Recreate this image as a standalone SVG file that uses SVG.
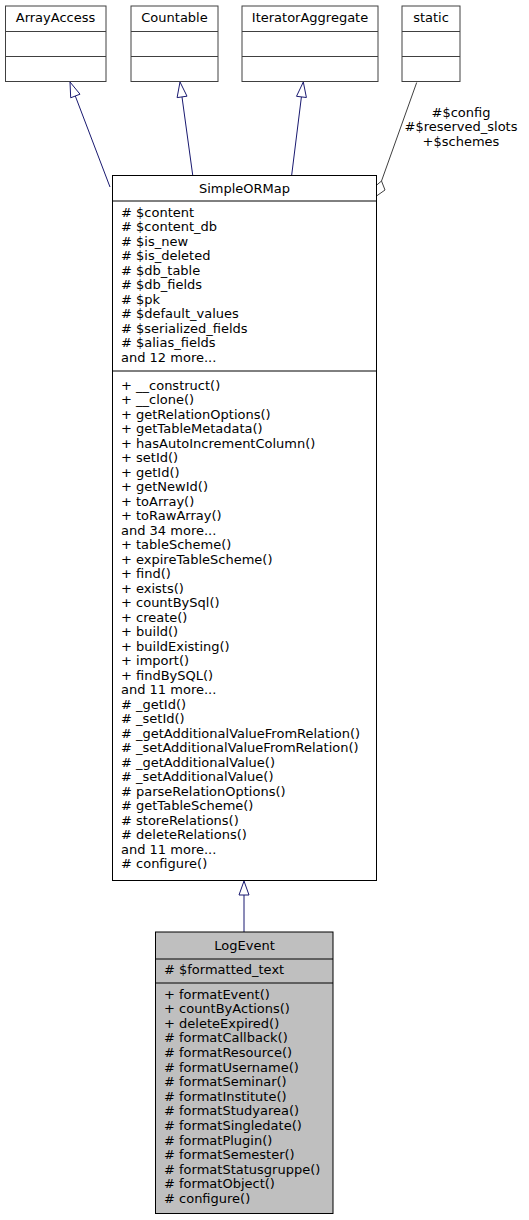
<svg xmlns="http://www.w3.org/2000/svg" width="529" height="1220" viewBox="0 0 529 1220">
<style>
text{font-family:"DejaVu Sans",sans-serif;font-size:13px;fill:#000}
.c{text-anchor:middle}
.box{fill:#fff;stroke:#404040;stroke-width:1}
.main{fill:#fff;stroke:#000;stroke-width:1}
.cur{fill:#bfbfbf;stroke:#000;stroke-width:1}
.div{stroke:#000;stroke-width:1}
.gdiv{stroke:#404040;stroke-width:1}
.inh{fill:none;stroke:#191970;stroke-width:1}
.head{fill:#fff;stroke:#191970;stroke-width:1}
.use{fill:none;stroke:#404040;stroke-width:1}
</style>
<rect width="529" height="1220" fill="#fff"/>
<g id="edges">
<path class="inh" d="M110,187 L75.3,96"/>
<polygon class="head" points="70,82 80,94.2 70.7,97.8"/>
<path class="inh" d="M192.7,175 L182,97"/>
<polygon class="head" points="180,82 187,96.2 177.1,97.6"/>
<path class="inh" d="M291.7,175 L301.4,97"/>
<polygon class="head" points="303.3,82 306.4,97.5 296.5,96.3"/>
<path class="inh" d="M244,932 L244,895"/>
<polygon class="head" points="244,881 249,895 239,895"/>
<path class="use" d="M416.7,82.5 L381.5,181"/>
<polygon class="use" fill="#fff" points="376.5,196 375,186.5 381.5,181 385,190"/>
<text class="c" x="461" y="116.5">#$config</text>
<text class="c" x="461" y="131">#$reserved_slots</text>
<text class="c" x="461" y="145.5">+$schemes</text>
</g>
<g id="ArrayAccess">
<rect class="box" x="5.5" y="6" width="100.5" height="75.5"/>
<line class="gdiv" x1="5.5" y1="31.5" x2="106" y2="31.5"/>
<line class="gdiv" x1="5.5" y1="56.5" x2="106" y2="56.5"/>
<text class="c" x="55.5" y="22">ArrayAccess</text>
</g>
<g id="Countable">
<rect class="box" x="131" y="6" width="87" height="75.5"/>
<line class="gdiv" x1="131" y1="31.5" x2="218" y2="31.5"/>
<line class="gdiv" x1="131" y1="56.5" x2="218" y2="56.5"/>
<text class="c" x="174.5" y="22">Countable</text>
</g>
<g id="IteratorAggregate">
<rect class="box" x="242" y="6" width="136" height="75.5"/>
<line class="gdiv" x1="242" y1="31.5" x2="378" y2="31.5"/>
<line class="gdiv" x1="242" y1="56.5" x2="378" y2="56.5"/>
<text class="c" x="310" y="22">IteratorAggregate</text>
</g>
<g id="static">
<rect class="box" x="402" y="6" width="58" height="75.5"/>
<line class="gdiv" x1="402" y1="31.5" x2="460" y2="31.5"/>
<line class="gdiv" x1="402" y1="56.5" x2="460" y2="56.5"/>
<text class="c" x="431" y="22">static</text>
</g>
<g id="SimpleORMap">
<rect class="main" x="112.5" y="175.5" width="264" height="705"/>
<line class="div" x1="112.5" y1="201" x2="376.5" y2="201"/>
<line class="div" x1="112.5" y1="371" x2="376.5" y2="371"/>
<text class="c" x="244.5" y="193">SimpleORMap</text>
<text x="121" y="216.5"># $content</text>
<text x="121" y="231"># $content_db</text>
<text x="121" y="245.5"># $is_new</text>
<text x="121" y="260"># $is_deleted</text>
<text x="121" y="274.5"># $db_table</text>
<text x="121" y="289"># $db_fields</text>
<text x="121" y="303.5"># $pk</text>
<text x="121" y="318"># $default_values</text>
<text x="121" y="332.5"># $serialized_fields</text>
<text x="121" y="347"># $alias_fields</text>
<text x="121" y="361.5">and 12 more...</text>
<text x="121" y="389.5">+ __construct()</text>
<text x="121" y="404">+ __clone()</text>
<text x="121" y="418.5">+ getRelationOptions()</text>
<text x="121" y="433">+ getTableMetadata()</text>
<text x="121" y="447.5">+ hasAutoIncrementColumn()</text>
<text x="121" y="462">+ setId()</text>
<text x="121" y="476.5">+ getId()</text>
<text x="121" y="491">+ getNewId()</text>
<text x="121" y="505.5">+ toArray()</text>
<text x="121" y="520">+ toRawArray()</text>
<text x="121" y="534.5">and 34 more...</text>
<text x="121" y="549">+ tableScheme()</text>
<text x="121" y="563.5">+ expireTableScheme()</text>
<text x="121" y="578">+ find()</text>
<text x="121" y="592.5">+ exists()</text>
<text x="121" y="607">+ countBySql()</text>
<text x="121" y="621.5">+ create()</text>
<text x="121" y="636">+ build()</text>
<text x="121" y="650.5">+ buildExisting()</text>
<text x="121" y="665">+ import()</text>
<text x="121" y="679.5">+ findBySQL()</text>
<text x="121" y="694">and 11 more...</text>
<text x="121" y="708.5"># _getId()</text>
<text x="121" y="723"># _setId()</text>
<text x="121" y="737.5"># _getAdditionalValueFromRelation()</text>
<text x="121" y="752"># _setAdditionalValueFromRelation()</text>
<text x="121" y="766.5"># _getAdditionalValue()</text>
<text x="121" y="781"># _setAdditionalValue()</text>
<text x="121" y="795.5"># parseRelationOptions()</text>
<text x="121" y="810"># getTableScheme()</text>
<text x="121" y="824.5"># storeRelations()</text>
<text x="121" y="839"># deleteRelations()</text>
<text x="121" y="853.5">and 11 more...</text>
<text x="121" y="868"># configure()</text>
</g>
<g id="LogEvent">
<rect class="cur" x="155.5" y="932" width="177.5" height="281.5"/>
<line class="div" x1="155.5" y1="959" x2="333" y2="959"/>
<line class="div" x1="155.5" y1="983" x2="333" y2="983"/>
<text class="c" x="244.5" y="949.5">LogEvent</text>
<text x="164" y="974"># $formatted_text</text>
<text x="164" y="998.5">+ formatEvent()</text>
<text x="164" y="1013.1">+ countByActions()</text>
<text x="164" y="1027.7">+ deleteExpired()</text>
<text x="164" y="1042.3"># formatCallback()</text>
<text x="164" y="1056.9"># formatResource()</text>
<text x="164" y="1071.5"># formatUsername()</text>
<text x="164" y="1086.1"># formatSeminar()</text>
<text x="164" y="1100.7"># formatInstitute()</text>
<text x="164" y="1115.3"># formatStudyarea()</text>
<text x="164" y="1129.9"># formatSingledate()</text>
<text x="164" y="1144.5"># formatPlugin()</text>
<text x="164" y="1159.1"># formatSemester()</text>
<text x="164" y="1173.7"># formatStatusgruppe()</text>
<text x="164" y="1188.3"># formatObject()</text>
<text x="164" y="1202.9"># configure()</text>
</g>
</svg>
